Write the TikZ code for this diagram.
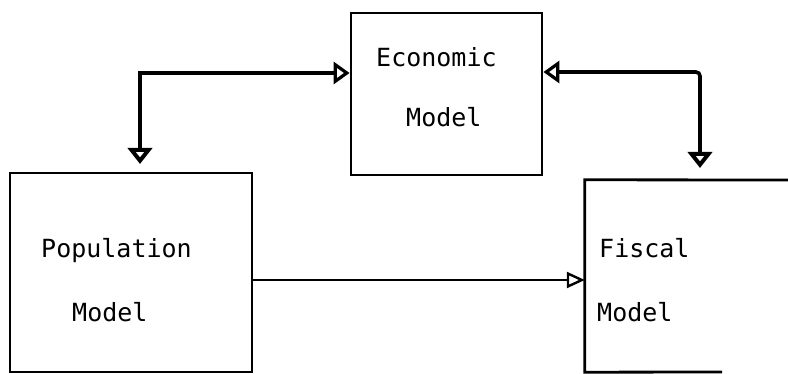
\documentclass[tikz,border=0pt]{standalone}
\usepackage{fontspec}
\newfontfamily\typew{DejaVu Sans Mono}
\usetikzlibrary{arrows.meta}
\tikzset{
  modelbox/.style={draw=black, line width=2.8pt, inner sep=0pt},
  lbl/.style={anchor=base west, inner sep=0pt, font=\typew\fontsize{25}{25}\selectfont},
  link/.style={draw=black, line width=3.6pt},
  thin link/.style={draw=black, line width=2.2pt},
  twohead/.style={arrows={Triangle[open, width=22pt, length=16pt, line width=3.2pt]-Triangle[open, width=24pt, length=16pt, line width=4pt]}},
  onehead/.style={arrows={-Triangle[open, width=16pt, length=18pt, line width=2.4pt]}},
}
\begin{document}
\begin{tikzpicture}[x=1pt, y=-1pt]
\useasboundingbox (0,0) rectangle (788,374);
% boxes
\node[modelbox, minimum width=191pt, minimum height=162pt] (econ) at (446.5,94) {};
\node[modelbox, minimum width=242pt, minimum height=199pt] (pop) at (131,272.5) {};
\node[inner sep=0pt, minimum width=210pt, minimum height=192pt] (fisc) at (690,276) {};
\draw[line width=2.8pt] (788,180) -- (fisc.north west) -- (fisc.south west) -- (722,372);
% labels
\node[lbl] (t1) at (376,67) {Economic};
\node[lbl] (t2) at (406,127) {Model};
\node[lbl] (t3) at (41,258) {Population};
\node[lbl] (t4) at (72,322) {Model};
\node[lbl] (t5) at (599,258) {Fiscal};
\node[lbl] (t6) at (597,322) {Model};
% connector points
\coordinate (ecL) at (econ.west |- 0,73);
\coordinate (ecR) at (econ.east |- 0,72);
\coordinate (popTip) at (140,164);
\coordinate (fisTip) at (700,168);
\coordinate (popR) at (pop.east |- 0,280);
\coordinate (fisL) at (fisc.west |- 0,280);
% connectors
\draw[link, twohead] (ecL) -| (popTip);
\draw[link, twohead, rounded corners=4pt] (ecR) -| (fisTip);
\draw[thin link, onehead] (popR) -- (fisL);
\end{tikzpicture}
\end{document}
